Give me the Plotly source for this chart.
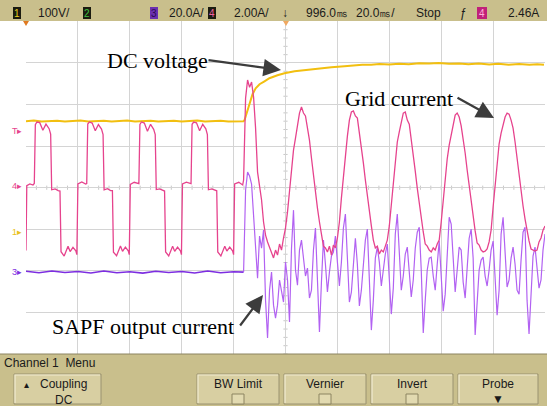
import plotly.graph_objects as go

# ---------------- data ----------------
# channel settings read from the scope header / ground markers
CH1_V_PER_DIV = 100.0   # DC voltage (yellow)
CH3_A_PER_DIV = 20.0    # SAPF output current (purple)
CH4_A_PER_DIV = 2.0     # grid current (pink)
CH1_GND = 2.93          # ground marker positions, divisions from bottom
CH3_GND = 1.97
CH4_GND = 4.04

# grid current before the SAPF is switched on (ms, A)
grid_pre_t = [-100.0, -99.7, -98.5, -97.3, -96.8,
              -96.4, -95.8, -94.7, -93.5, -92.3, -91.1, -90.5,
              -90.1, -88.8, -87.6, -86.9,
              -86.5, -85.3, -83.8, -83.0, -81.9, -80.8, -80.4,
              -80.0, -78.5, -77.0, -76.6,
              -76.2, -75.6, -74.5, -73.3, -72.1, -70.9, -70.3,
              -69.9, -68.6, -67.4, -66.7,
              -66.3, -65.1, -63.6, -62.8, -61.7, -60.6, -60.2,
              -59.8, -58.3, -56.8, -56.5,
              -56.1, -55.5, -54.4, -53.2, -52.0, -50.8, -50.2,
              -49.8, -48.5, -47.3, -46.6,
              -46.2, -45.0, -43.5, -42.7, -41.6, -40.5, -40.1,
              -39.7, -38.2, -36.7, -36.4,
              -36.0, -35.4, -34.3, -33.1, -31.9, -30.7, -30.1,
              -29.7, -28.4, -27.2, -26.5,
              -26.1, -24.9, -23.4, -22.6, -21.5, -20.4, -20.0,
              -19.6, -18.0, -16.5]
grid_pre_a = [-3.10, 0.02, 0.10, 0.05, 0.12,
              2.95, 3.08, 3.05, 2.68, 2.98, 2.76, 2.50,
              -0.18, -0.14, -0.22, -0.24,
              -3.16, -3.37, -2.90, -3.15, -2.95, -3.12, -3.30,
              0.10, 0.20, 0.10, 0.12,
              2.98, 3.08, 3.03, 2.66, 2.96, 2.74, 2.48,
              -0.18, -0.13, -0.22, -0.22,
              -3.18, -3.35, -2.88, -3.14, -2.94, -3.12, -3.30,
              0.08, 0.18, 0.10, 0.12,
              2.96, 3.08, 3.03, 2.64, 2.97, 2.73, 2.47,
              -0.17, -0.14, -0.22, -0.24,
              -3.17, -3.36, -2.90, -3.14, -2.94, -3.12, -3.30,
              0.10, 0.19, 0.10, 0.12,
              2.97, 3.08, 3.04, 2.66, 2.97, 2.75, 2.48,
              -0.18, -0.14, -0.21, -0.23,
              -3.17, -3.36, -2.90, -3.13, -2.94, -3.12, -3.30,
              0.10, 0.18, 0.05]

# uniform sample clock after the switch-on instant (ms)
SAMPLE_MS = 20.0 / 26.0
post_t = [round(-16.15 + i * SAMPLE_MS, 3) for i in range(152)]

grid_post_a = [0.29, 4.23, 5.10, 4.75, 5.00, 4.28, 2.79, 0.67, 0.00, -0.67,
               -1.73, -2.36, -2.69, -2.98, -3.17, -3.46, -3.08, -3.32, -2.79, -3.08,
               -2.50, -2.02, -1.25, -0.19, 0.87, 1.73, 2.31, 2.93, 3.51, 3.80,
               3.51, 3.37, 2.84, 2.21, 1.35, 0.48, -0.29, -1.06, -1.73, -2.31,
               -2.89, -2.98, -3.17, -2.89, -3.32, -2.84, -2.98, -2.50, -1.73, -0.58,
               0.48, 1.49, 2.40, 3.17, 3.56, 3.61, 3.37, 3.27, 2.60, 1.92,
               1.11, 0.29, -0.53, -1.25, -1.92, -2.60, -2.98, -2.89, -3.27, -3.08,
               -3.17, -2.89, -2.60, -1.92, -0.82, 0.29, 1.25, 2.12, 2.60, 3.08,
               3.51, 3.56, 3.17, 2.98, 2.31, 1.54, 0.72, -0.10, -0.87, -1.59,
               -2.21, -2.79, -2.89, -3.08, -3.17, -2.98, -3.08, -2.79, -2.60, -1.73,
               -0.72, 0.34, 1.30, 1.97, 2.50, 3.03, 3.41, 3.51, 3.32, 2.89,
               2.31, 1.59, 0.77, 0.00, -0.77, -1.49, -2.16, -2.74, -2.84, -3.08,
               -3.17, -3.13, -3.03, -2.69, -2.12, -1.01, 0.10, 1.20, 2.02, 2.55,
               2.98, 3.32, 3.51, 3.46, 3.17, 2.79, 2.12, 1.30, 0.48, -0.29,
               -0.96, -1.59, -2.16, -2.64, -3.03, -3.08, -3.13, -3.08, -2.69, -2.50,
               -2.12, -1.92]

# SAPF output current (A)
sapf_pre_t = [-100, -95, -90, -85, -80, -75, -70, -65, -60, -55,
              -50, -45, -40, -35, -30, -25, -20, -16.6]
sapf_pre_a = [0.4, -0.3, 0.5, -0.2, 0.3, -0.4, 0.5, -0.3, 0.2, -0.5,
              0.4, -0.2, 0.3, -0.4, 0.5, -0.3, 0.2, 0.0]
sapf_post_a = [0.0, 39.4, 48.1, 46.2, 42.3, 28.8, 10.6, -2.9, 17.3, 11.5,
               20.2, -13.5, -31.7, -8.7, 0.0, -15.9, -22.1, -15.9, -3.8, -9.6,
               -14.4, 4.8, -3.8, -24.0, 11.5, 29.8, 1.0, -6.3, 10.6, 15.4,
               4.8, -1.9, 1.9, -12.5, -8.7, 10.6, 21.2, 0.0, -28.8, -4.8,
               15.4, 3.8, -9.6, 0.0, 7.7, 9.6, 17.3, 4.8, -6.7, 4.8,
               21.2, 27.9, 9.6, -14.4, -9.6, 4.8, 16.3, 3.8, -16.3, -8.7,
               5.8, 15.4, 20.7, 0.0, -27.9, -13.5, 6.7, 12.0, 4.8, -6.7,
               1.0, 8.7, 13.5, -4.8, -20.2, -7.7, 18.3, 27.9, 9.6, -8.7,
               -1.9, 8.7, 12.0, 1.0, -12.0, -3.8, 11.5, 19.2, 21.6, 1.0,
               -29.3, -13.5, 1.0, 6.7, 7.2, -1.9, -8.7, 3.8, 14.9, -1.9,
               -18.8, -10.6, 10.6, 26.4, 23.1, 3.4, -9.6, 1.0, 12.0, 10.6,
               -4.8, -12.5, 1.9, 16.3, 20.7, 6.7, -30.3, -15.4, 1.0, 5.8,
               7.2, -1.9, -6.7, 1.0, 10.6, 14.9, -4.8, -20.7, -8.7, 18.3,
               26.4, 9.6, -7.2, -3.8, 6.7, 12.0, 3.8, -8.7, -10.6, 5.8,
               19.2, 21.6, -13.5, -29.8, -8.7, 7.7, 12.0, 1.0, -7.7, -3.8,
               10.6, 18.3]

# DC-link voltage (ms, V)
dc_t = [-100, -97, -94, -91, -88, -85, -82, -79, -76, -73, -70, -67, -64, -61,
        -58, -55, -52, -49, -46, -43, -40, -37, -34, -31, -28, -25, -22, -19, -16.2,
        -15.8, -14.6, -13.8, -12.7, -11.5, -10.0, -8.1, -6.2, -3.1, -0.4,
        3.5, 8.5, 13.1, 17.7, 22.7, 26.0, 29.6, 33.0, 36.2, 40.0,
        43.8, 47.5, 51.5, 55.4, 59.0, 63.0, 66.9, 70.5, 74.5, 78.5,
        82.0, 86.0, 90.0, 94.0, 97.0, 99.6]
dc_v = [267.0, 268.5, 266.0, 267.5, 268.0, 266.5, 267.0, 268.5, 266.0, 267.5,
        268.0, 266.0, 267.5, 268.5, 266.5, 267.0, 268.0, 266.5, 267.5, 268.0,
        266.0, 267.5, 268.5, 266.5, 267.0, 268.0, 266.5, 267.5, 267.0,
        269.2, 293.3, 310.1, 331.8, 346.2, 355.8, 363.0, 370.2, 377.4, 382.2,
        387.0, 390.7, 394.2, 396.7, 399.1, 401.5, 402.7, 402.5, 404.5, 403.5,
        405.1, 404.0, 406.5, 405.5, 407.0, 405.0, 406.0, 404.0, 405.5, 403.5,
        405.0, 403.0, 404.5, 403.0, 404.0, 402.7]

header_text = ["100V/", "20.0A/", "2.00A/", "996.0\u33b3", "20.0\u33b3/", "Stop", "2.46A"]
menu_title = "Channel 1  Menu"
buttons = [("Coupling<br>DC", 14, 101), ("BW Limit", 197, 279), ("Vernier", 284, 366),
           ("Invert", 371, 453), ("Probe", 458, 538)]

# ---------------- figure ----------------
W, H = 547, 406
def px(x): return x / W
def py(y): return 1 - y / H

YEL = "#f2bf10"
PINK = "#e6438d"
PURP = "#b262f2"
PURP_D = "#7d2ee0"

def to_div(vals, gnd, scale):
    return [gnd + v / scale for v in vals]

fig = go.Figure()
fig.add_trace(go.Scatter(x=dc_t, y=to_div(dc_v, CH1_GND, CH1_V_PER_DIV), mode="lines",
                         line=dict(color=YEL, width=2), hoverinfo="skip"))
fig.add_trace(go.Scatter(x=sapf_pre_t + post_t[:1], y=to_div(sapf_pre_a + sapf_post_a[:1], CH3_GND, CH3_A_PER_DIV),
                         mode="lines", line=dict(color=PURP_D, width=1.6), hoverinfo="skip"))
fig.add_trace(go.Scatter(x=post_t, y=to_div(sapf_post_a, CH3_GND, CH3_A_PER_DIV), mode="lines",
                         line=dict(color=PURP, width=1.2), hoverinfo="skip"))
fig.add_trace(go.Scatter(x=grid_pre_t + post_t, y=to_div(grid_pre_a + grid_post_a, CH4_GND, CH4_A_PER_DIV),
                         mode="lines", line=dict(color=PINK, width=1.3), hoverinfo="skip"))

shapes = []
KHAKI = "#c9bf8c"
# header bar
shapes.append(dict(type="rect", xref="paper", yref="paper", x0=0, x1=1, y0=py(21), y1=1,
                   fillcolor=KHAKI, line=dict(width=0), layer="below"))
# bottom menu
shapes.append(dict(type="rect", xref="paper", yref="paper", x0=0, x1=1, y0=0, y1=py(354),
                   fillcolor=KHAKI, line=dict(width=0), layer="below"))
shapes.append(dict(type="line", xref="paper", yref="paper", x0=0, x1=1, y0=py(354), y1=py(354),
                   line=dict(color="#8c8460", width=1)))
# channel boxes in header
for (x0, x1, fill) in [(13, 21, "#1b1b10"), (83, 91, "#1b1b10"), (150, 158, "#6b2fb0"),
                       (208, 216, "#1b1b10"), (477, 487, "#c0207a")]:
    shapes.append(dict(type="rect", xref="paper", yref="paper", x0=px(x0), x1=px(x1),
                       y0=py(19), y1=py(7), fillcolor=fill, line=dict(width=0)))
# buttons
for (label, x0, x1) in buttons:
    shapes.append(dict(type="rect", xref="paper", yref="paper", x0=px(x0), x1=px(x1),
                       y0=py(404), y1=py(374), fillcolor="#d8cfa2",
                       line=dict(color="#9a9270", width=1)))
    shapes.append(dict(type="path", xref="paper", yref="paper",
                       path=f"M {px(x0+1)},{py(403)} L {px(x0+1)},{py(375)} L {px(x1-1)},{py(375)}",
                       line=dict(color="#f2ecd0", width=1.2)))
# checkboxes
for cx in [238, 325, 412]:
    shapes.append(dict(type="rect", xref="paper", yref="paper", x0=px(cx - 6), x1=px(cx + 6),
                       y0=py(404), y1=py(394), fillcolor="#e2dab0", line=dict(color="#8c8460", width=1)))
# centre-axis minor ticks
for i in range(41):
    v = i * 0.2
    shapes.append(dict(type="line", xref="x", yref="y", x0=-0.8, x1=0.8, y0=v, y1=v,
                       line=dict(color="#c8c8c8", width=1), layer="below"))
for i in range(51):
    t = -100 + i * 4
    shapes.append(dict(type="line", xref="x", yref="y", x0=t, x1=t, y0=3.95, y1=4.05,
                       line=dict(color="#c8c8c8", width=1), layer="below"))
# time-reference markers
shapes.append(dict(type="path", xref="paper", yref="paper",
                   path=f"M {px(23)},{py(21)} L {px(29)},{py(21)} L {px(26)},{py(26)} Z",
                   fillcolor="#e07a20", line=dict(width=0)))
shapes.append(dict(type="path", xref="paper", yref="paper",
                   path=f"M {px(283)},{py(21)} L {px(289)},{py(21)} L {px(286)},{py(26)} Z",
                   fillcolor="#f0a860", line=dict(width=0)))

ann = []
def txt(x, y, s, size=12, color="#1a1a1a", family="Liberation Sans", xanchor="left"):
    ann.append(dict(xref="paper", yref="paper", x=px(x), y=py(y), text=s, showarrow=False,
                    xanchor=xanchor, yanchor="middle", font=dict(size=size, color=color, family=family)))

# header
txt(17, 13, "1", 10, "#e8d020", xanchor="center")
txt(87, 13, "2", 10, "#40c040", xanchor="center")
txt(154, 13, "3", 10, "#2a0a50", xanchor="center")
txt(212, 13, "4", 10, "#f060a0", xanchor="center")
txt(482, 13, "4", 10, "#ffb0d8", xanchor="center")
txt(36, 13, header_text[0])
txt(167, 13, header_text[1])
txt(232, 13, header_text[2])
txt(285, 13, "\u2193", 12, "#1a1a1a", xanchor="center")
txt(304, 13, header_text[3])
txt(354, 13, header_text[4])
txt(414, 13, header_text[5])
txt(464, 13, "\u0192", 12, "#1a1a1a", xanchor="center")
txt(506, 13, header_text[6])

# left markers
txt(17, 131, "T\u25b8", 9, PINK, xanchor="center")
txt(17, 186, "4\u25b8", 9, PINK, xanchor="center")
txt(17, 232, "1\u25b8", 9, "#e8c020", xanchor="center")
txt(17, 272, "3\u25b8", 9, PURP_D, xanchor="center")

# bottom menu
txt(2, 363, menu_title, 12)
for (label, x0, x1) in buttons:
    if "<br>" in label:
        ann.append(dict(xref="paper", yref="paper", x=px((x0 + x1) / 2 + 6), y=py(392), text=label,
                        showarrow=False, xanchor="center", yanchor="middle",
                        font=dict(size=12, color="#1a1a1a", family="Liberation Sans")))
    else:
        txt((x0 + x1) / 2, 384, label, 12, xanchor="center")
txt(26, 384, "\u25b4", 10, xanchor="center")
txt(498, 399, "\u25bc", 12, xanchor="center")

# chart annotations
SERIF = "Liberation Serif"
txt(105, 60, "DC voltage", 22, "#000000", SERIF)
txt(343, 98, "Grid current", 22, "#000000", SERIF)
txt(50, 326, "SAPF output current", 22, "#000000", SERIF)
for (x0, y0, x1, y1) in [(207, 60, 281, 70), (456, 97, 494, 118), (239, 327, 263, 295)]:
    ann.append(dict(xref="paper", yref="paper", x=px(x1), y=py(y1), ax=x0 - x1, ay=y0 - y1,
                    axref="pixel", ayref="pixel", text="", showarrow=True,
                    arrowhead=2, arrowsize=1.6, arrowwidth=2.2, arrowcolor="#3c3c3c"))

fig.update_layout(
    width=W, height=H, margin=dict(l=0, r=0, t=0, b=0),
    paper_bgcolor="white", plot_bgcolor="white", showlegend=False,
    xaxis=dict(domain=[26 / W, 545 / W], range=[-100, 100], tick0=-100, dtick=20,
               showgrid=True, gridcolor="#d4d4d4", gridwidth=1, zeroline=False,
               showticklabels=False, ticks="", showline=False, fixedrange=True),
    yaxis=dict(domain=[1 - 354 / H, 1 - 21.4 / H], range=[0, 8], tick0=0, dtick=1,
               showgrid=True, gridcolor="#d4d4d4", gridwidth=1, zeroline=False,
               showticklabels=False, ticks="", showline=False, fixedrange=True),
    shapes=shapes, annotations=ann,
)
fig.write_html("out.html")
